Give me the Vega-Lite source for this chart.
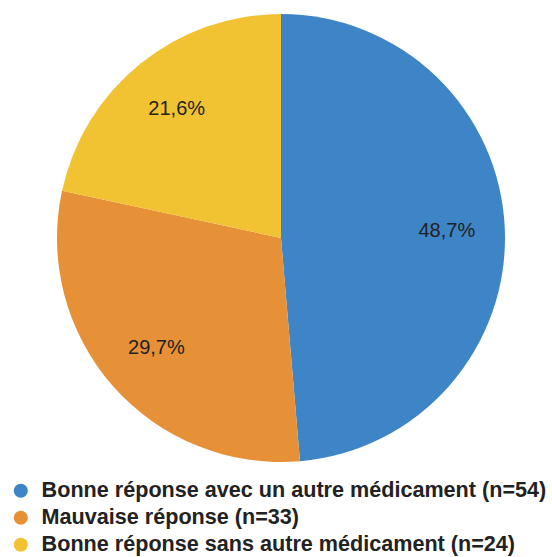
{
  "$schema": "https://vega.github.io/schema/vega-lite/v6.json",
  "width": 542,
  "height": 448,
  "padding": {"left": 10, "top": 14, "right": 0, "bottom": 0},
  "background": "white",
  "data": {
    "values": [
      {"categorie": "Bonne réponse avec un autre médicament (n=54)", "n": 54, "ordre": 1, "pct": "48,7%"},
      {"categorie": "Mauvaise réponse (n=33)", "n": 33, "ordre": 2, "pct": "29,7%"},
      {"categorie": "Bonne réponse sans autre médicament (n=24)", "n": 24, "ordre": 3, "pct": "21,6%"}
    ]
  },
  "encoding": {
    "theta": {"field": "n", "type": "quantitative", "stack": true},
    "order": {"field": "ordre", "type": "quantitative"},
    "color": {
      "field": "categorie",
      "type": "nominal",
      "sort": ["Bonne réponse avec un autre médicament (n=54)", "Mauvaise réponse (n=33)", "Bonne réponse sans autre médicament (n=24)"],
      "scale": {
        "domain": ["Bonne réponse avec un autre médicament (n=54)", "Mauvaise réponse (n=33)", "Bonne réponse sans autre médicament (n=24)"],
        "range": ["#3d85c6", "#e69138", "#f1c232"]
      },
      "legend": {
        "title": null,
        "orient": "bottom",
        "direction": "vertical",
        "offset": 18,
        "symbolType": "circle",
        "symbolSize": 200,
        "symbolStrokeWidth": 0,
        "labelFont": "Liberation Sans",
        "labelFontWeight": "bold",
        "labelFontSize": 21.6,
        "labelColor": "#222222",
        "labelLimit": 700,
        "labelOffset": 10,
        "rowPadding": 4,
        "padding": 0
      }
    }
  },
  "layer": [
    {"mark": {"type": "arc", "stroke": null}},
    {
      "mark": {"type": "text", "radius": 166, "font": "Liberation Sans", "fontSize": 20},
      "encoding": {
        "text": {"field": "pct", "type": "nominal"},
        "color": {"value": "#222222"}
      }
    }
  ],
  "config": {"view": {"stroke": null}}
}
